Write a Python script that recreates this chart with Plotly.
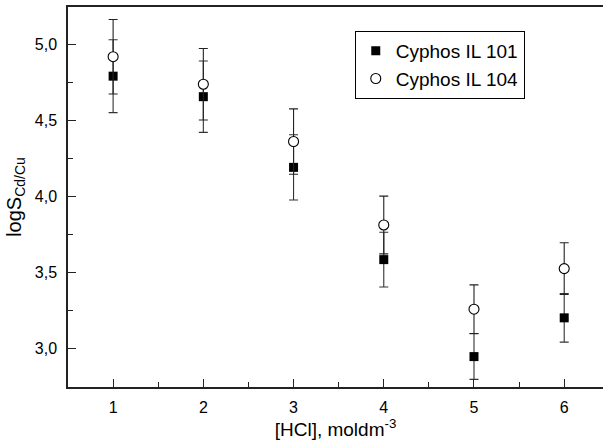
import plotly.graph_objects as go

hcl = [1, 2, 3, 4, 5, 6]
il101 = [4.79, 4.655, 4.19, 3.583, 2.945, 3.20]
il101_err = [0.24, 0.235, 0.215, 0.18, 0.15, 0.16]
il104 = [4.918, 4.737, 4.36, 3.811, 3.257, 3.524]
il104_err = [0.245, 0.235, 0.215, 0.19, 0.16, 0.17]
y_ticks = [3.0, 3.5, 4.0, 4.5, 5.0]

FONT = "Liberation Sans, Arial, sans-serif"

fig = go.Figure()
fig.add_trace(go.Scatter(
    x=hcl, y=il101, mode="markers", name="Cyphos IL 101",
    marker=dict(symbol="square", size=9, color="black", line=dict(width=0)),
    error_y=dict(type="data", array=il101_err, visible=True, color="#333", thickness=1.1, width=4.5),
))
fig.add_trace(go.Scatter(
    x=hcl, y=il104, mode="markers", name="Cyphos IL 104",
    marker=dict(symbol="circle", size=10, color="white", line=dict(width=1.1, color="black")),
    error_y=dict(type="data", array=il104_err, visible=True, color="#222", thickness=1.1, width=4.5),
))

fig.update_layout(
    width=603, height=445,
    margin=dict(l=68, r=0, t=7, b=58),
    paper_bgcolor="white", plot_bgcolor="white",
    separators=", ",
    font=dict(family=FONT, size=16, color="black"),
    showlegend=True,
    legend=dict(
        x=0.536, y=0.937, xanchor="left", yanchor="top",
        bgcolor="white", bordercolor="black", borderwidth=1,
        font=dict(size=19, family=FONT), tracegroupgap=0,
    ),
    xaxis=dict(
        range=[0.5, 6.43], tickvals=hcl, ticks="inside", ticklen=8, tickwidth=1.3,
        tickcolor="#222", showline=True, linecolor="#222", linewidth=1.5,
        mirror=True, showgrid=False, zeroline=False, automargin=False,
        minor=dict(dtick=0.5, tick0=0.5, ticks="inside", ticklen=5, tickwidth=1.2, tickcolor="#222"),
        ticklabelstandoff=5,
        tickfont=dict(size=16),
        title=dict(text="[HCl], moldm<sup>-3</sup>", font=dict(size=19), standoff=6),
    ),
    yaxis=dict(
        range=[2.745, 5.245], tickvals=y_ticks, tickformat=".1f", ticks="inside", ticklen=8,
        tickwidth=1.3, tickcolor="#222", showline=True, linecolor="#222", linewidth=1.5,
        showgrid=False, zeroline=False, automargin=False,
        minor=dict(dtick=0.25, tick0=0, ticks="inside", ticklen=5, tickwidth=1.2, tickcolor="#222"),
        ticklabelstandoff=6,
        tickfont=dict(size=16),
        title=dict(text="logS<sub>Cd/Cu</sub>", font=dict(size=20), standoff=8),
    ),
)

fig.write_html(
    "out.html",
    config={"displayModeBar": False},
    post_script="document.body.style.margin='0';document.body.style.overflow='hidden';",
)
